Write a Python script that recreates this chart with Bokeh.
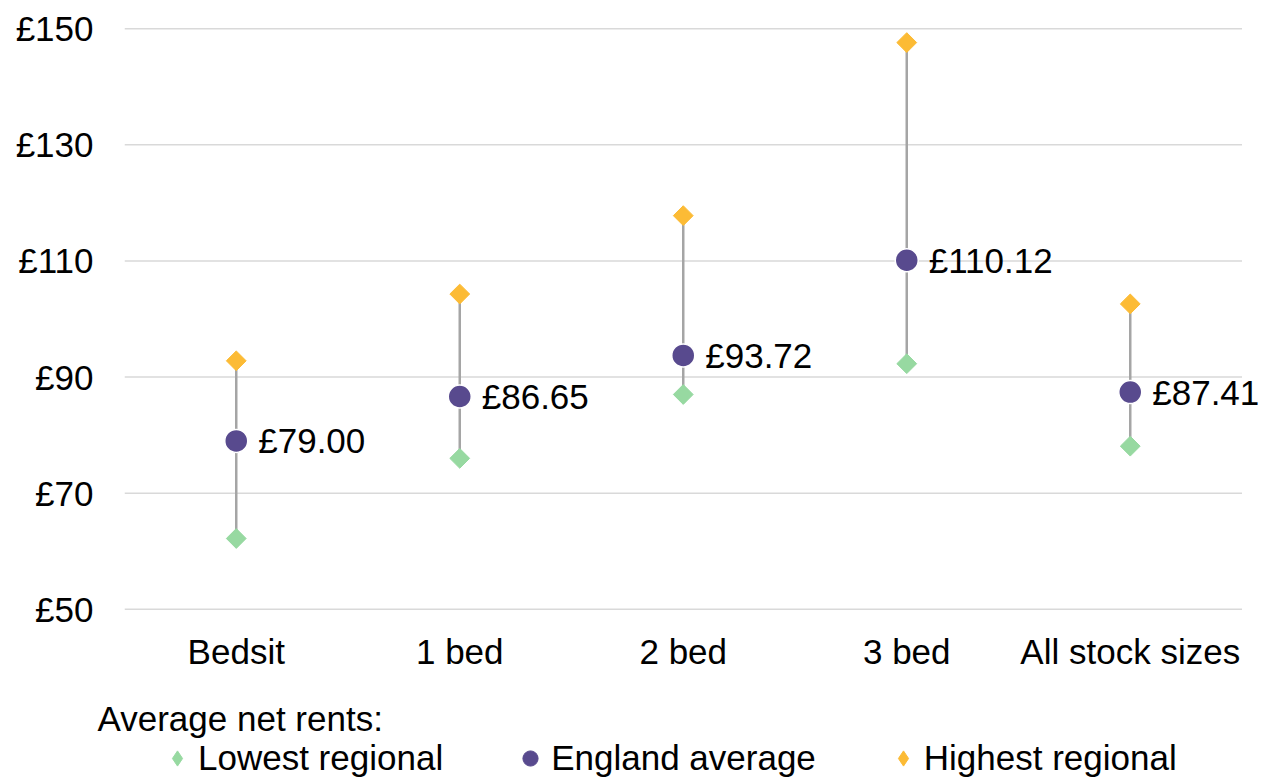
from bokeh.plotting import figure
from bokeh.layouts import column
from bokeh.models import (ColumnDataSource, Range1d, Legend, LegendItem, Title,
                          FixedTicker, CustomJSTickFormatter)
from bokeh.embed import file_html
from bokeh.resources import INLINE
from bokeh.core.properties import value
import math

categories = ["Bedsit", "1 bed", "2 bed", "3 bed", "All stock sizes"]
lowest_regional = [62.2, 76.0, 87.0, 92.3, 78.1]
england_average = [79.00, 86.65, 93.72, 110.12, 87.41]
highest_regional = [92.8, 104.3, 117.8, 147.6, 102.6]
avg_labels = ["£%.2f" % v for v in england_average]
y_ticks = [50, 70, 90, 110, 130, 150]
series_names = ["Lowest regional", "England average", "Highest regional"]
legend_title = "Average net rents:"

FONT = "Liberation Sans"
FS = "35px"
PURPLE = "#584a8e"
ORANGE = "#fcbb35"
GREEN = "#97d9a1"

n = len(categories)
xpos = [i + 0.5 for i in range(n)]
src = ColumnDataSource(dict(x=xpos, cat=categories, low=lowest_regional, avg=england_average,
                            high=highest_regional, lab=avg_labels))

p = figure(x_range=Range1d(0, n * 1137 / 1117.5), y_range=Range1d(49.8, 150.2),
           frame_width=1137, frame_height=583,
           min_border_left=124, min_border_right=0, min_border_top=27, min_border_bottom=86,
           output_backend="svg", toolbar_location=None, background_fill_color="white",
           border_fill_color="white")
p.outline_line_color = None
p.xgrid.grid_line_color = None
p.ygrid.grid_line_color = None

# axes
p.yaxis.ticker = FixedTicker(ticks=y_ticks)
p.yaxis.formatter = CustomJSTickFormatter(code="return '£' + tick.toFixed(0);")
p.xaxis.ticker = FixedTicker(ticks=xpos)
p.xaxis.major_label_overrides = {x: c for x, c in zip(xpos, categories)}
for ax in (p.xaxis[0], p.yaxis[0]):
    ax.axis_line_color = None
    ax.major_tick_line_color = None
    ax.minor_tick_line_color = None
    ax.major_label_text_font = FONT
    ax.major_label_text_font_size = FS
    ax.major_label_text_color = "#000000"
p.yaxis.major_label_standoff = 25
p.xaxis.major_label_standoff = 15

# horizontal gridlines across the category span
p.segment(x0=[0] * len(y_ticks), x1=[n] * len(y_ticks), y0=y_ticks, y1=y_ticks,
          line_color="#d9d9d9", line_width=1.5)

# range lines
p.segment(x0="x", y0="low", x1="x", y1="high", source=src, line_color="#a5a5a5", line_width=2.5)

low_style = dict(marker="square", angle=math.pi / 4, size=14, fill_color=GREEN, line_color=GREEN)
high_style = dict(marker="square", angle=math.pi / 4, size=14, fill_color=ORANGE, line_color=ORANGE)
avg_style = dict(marker="circle", size=23, fill_color=PURPLE, line_color="white", line_width=1.5)

p.scatter(x="x", y="low", source=src, **low_style)
p.scatter(x="x", y="high", source=src, **high_style)
p.scatter(x="x", y="avg", source=src, **avg_style)

p.text(x="x", y="avg", text="lab", source=src, x_offset=22, text_baseline="middle",
       text_align="left", text_font=value(FONT), text_font_size=FS, text_color="#000000")

# legend strip below the chart; its frame is pixel-scaled and the series
# renderers fall outside its ranges, so only their legend glyphs show
lg = figure(frame_width=1137, frame_height=41, x_range=Range1d(1000, 2137), y_range=Range1d(0, 41),
            min_border_left=124, min_border_right=0, min_border_top=0, min_border_bottom=0,
            x_axis_location=None, y_axis_location=None,
            output_backend="svg", toolbar_location=None, background_fill_color="white",
            border_fill_color="white")
lg.outline_line_color = None
lg.xgrid.grid_line_color = None
lg.ygrid.grid_line_color = None
d_low = lg.scatter(x="x", y="low", source=src, marker="diamond", fill_color=GREEN, line_color=GREEN)
d_avg = lg.scatter(x="x", y="avg", source=src, marker="circle", fill_color=PURPLE, line_color=PURPLE)
d_high = lg.scatter(x="x", y="high", source=src, marker="diamond", fill_color=ORANGE, line_color=ORANGE)

legend = Legend(items=[LegendItem(label=series_names[0], renderers=[d_low]),
                       LegendItem(label=series_names[1], renderers=[d_avg]),
                       LegendItem(label=series_names[2], renderers=[d_high])],
                orientation="horizontal", location=(32, 0),
                label_text_font=FONT, label_text_font_size=FS, label_text_color="#000000",
                glyph_width=42, glyph_height=38, label_standoff=-5, spacing=66,
                padding=0, margin=0, border_line_color=None, background_fill_alpha=0)
lg.add_layout(legend, "center")

lg.add_layout(Title(text=legend_title, align="left", offset=-27, text_font=FONT,
                    text_font_size=FS, text_font_style="normal", text_color="#000000",
                    standoff=0), "above")

layout = column(p, lg, spacing=0)
open("out.html", "w").write(file_html(layout, INLINE))
